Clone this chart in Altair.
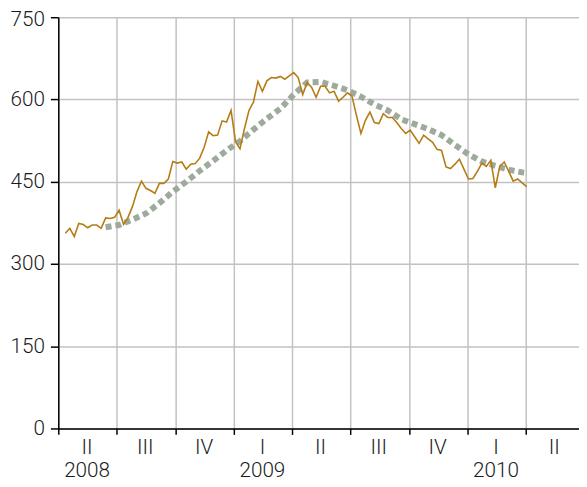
import altair as alt
import pandas as pd

# weekly values, first week ending 2008-04-12
claims = [356, 365, 350, 374, 372, 366, 371, 371, 365, 384,
          383, 385, 398, 372, 385, 405, 432, 451, 438, 434,
          429, 447, 447, 455, 487, 484,
          486, 473, 482, 483, 493, 513, 541, 534, 535, 561,
          559, 580, 523, 510, 547, 580, 595, 633, 615, 634,
          640, 639, 642, 637, 643, 649, 640,
          609, 631, 622, 604, 624, 624, 612, 615, 597, 604,
          612, 606, 571, 538, 562, 577, 558, 556, 574, 567,
          567, 558, 547, 538, 544,
          532, 520, 535, 528, 522, 509, 507, 477, 474, 482,
          491, 473, 455, 456, 469, 484, 478, 489, 439, 478,
          486, 469, 451, 455, 448, 441]
week_start = "2008-04-12"

# smoothed trend, by week index of the series above
trend_weeks = [9, 12, 15, 18, 21, 24, 27, 30, 33, 36, 39, 42, 45, 48, 51,
               54, 57, 60, 63, 66, 69, 72, 75, 78, 81, 84, 87, 90, 93, 96,
               99, 102, 103]
trend_values = [367, 371, 381, 392, 411, 432, 450, 470, 488, 507, 524, 545,
                565, 583, 609, 631, 632, 625, 617, 605, 591, 580, 564, 555,
                546, 535, 517, 500, 487, 479, 472, 467, 466]

quarter_starts = ["2008-04-01", "2008-07-01", "2008-10-01", "2009-01-01",
                  "2009-04-01", "2009-07-01", "2009-10-01", "2010-01-01",
                  "2010-04-01"]
quarter_mid = ["2008-05-16", "2008-08-15", "2008-11-15", "2009-02-14",
               "2009-05-16", "2009-08-15", "2009-11-15", "2010-02-14",
               "2010-05-16"]
quarter_labels = ["II", "III", "IV", "I", "II", "III", "IV", "I", "II"]
year_labels = ["2008", "", "", "2009", "", "", "", "2010", ""]
y_ticks = [0, 150, 300, 450, 600, 750]

FONT = "Roboto"
TXT = "#1a1a1a"
FS = 21

dates = pd.date_range(week_start, periods=len(claims), freq="7D")
df = pd.DataFrame({"date": dates, "value": claims})
trend_df = pd.DataFrame({"date": dates[trend_weeks], "value": trend_values})
lab_df = pd.DataFrame({"date": pd.to_datetime(quarter_mid),
                       "q": quarter_labels, "yr": year_labels})


def dt(s):
    d = pd.Timestamp(s)
    return alt.DateTime(year=d.year, month=d.month, date=d.day, hours=d.hour)


x_scale = alt.Scale(domain=[dt("2008-04-01"), dt("2010-06-23 20:00")], nice=False)
y_scale = alt.Scale(domain=[0, 750], nice=False)

x_axis = alt.Axis(values=[dt(s) for s in quarter_starts], labels=False, title=None,
                  ticks=True, tickSize=6, tickColor="black", tickWidth=1.5,
                  domainColor="black", domainWidth=1.5,
                  grid=True, gridColor="#c2c2c2", gridWidth=1.5)
y_axis = alt.Axis(values=y_ticks, title=None, tickSize=8, tickColor="black",
                  tickWidth=1.5, domainColor="black", domainWidth=1.5,
                  grid=True, gridColor="#c2c2c2", gridWidth=1.5,
                  labelFont=FONT, labelFontSize=FS, labelFontWeight=300,
                  labelColor=TXT, labelPadding=6,
                  labelOffset={"condition": {"test": "datum.value == 750", "value": 2},
                               "value": 0})

trend = alt.Chart(trend_df).mark_line(
    color="#9eaa9c", strokeWidth=6, strokeDash=[6, 4], strokeCap="butt"
).encode(
    x=alt.X("date:T", scale=x_scale, axis=x_axis),
    y=alt.Y("value:Q", scale=y_scale, axis=y_axis),
)

line = alt.Chart(df).mark_line(color="#b67c14", strokeWidth=1.6).encode(
    x=alt.X("date:T", scale=x_scale),
    y=alt.Y("value:Q", scale=y_scale),
)

qtext = alt.Chart(lab_df).mark_text(
    font=FONT, fontSize=FS, fontWeight=300, color=TXT,
    align="center", baseline="middle"
).encode(
    x=alt.X("date:T", scale=x_scale),
    y=alt.value(437),
    text="q:N",
)

ytext = alt.Chart(lab_df).mark_text(
    font=FONT, fontSize=FS, fontWeight=300, color=TXT,
    align="center", baseline="middle"
).encode(
    x=alt.X("date:T", scale=x_scale),
    y=alt.value(460),
    text="yr:N",
)

chart = alt.layer(trend, line, qtext, ytext).properties(
    width=528, height=417,
    autosize=alt.AutoSizeParams(type="none"),
    padding={"left": 51, "top": 6, "right": 0, "bottom": 56},
).configure_view(stroke=None)

chart.save("out.html", embed_options={"renderer": "svg", "actions": False})
